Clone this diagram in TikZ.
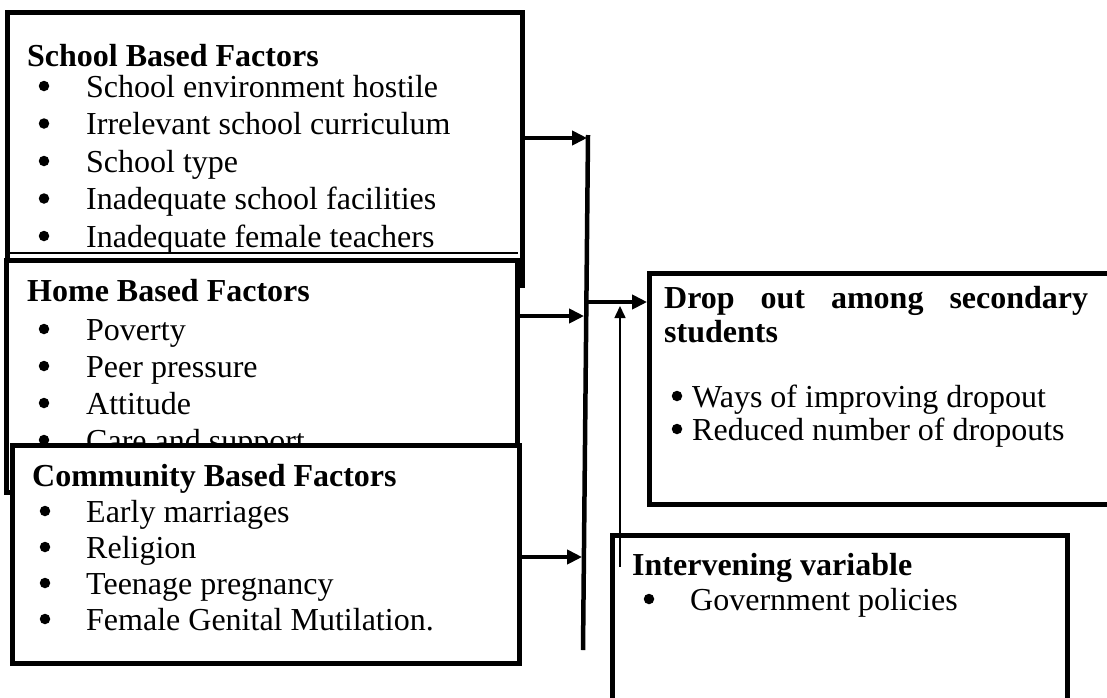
\documentclass[tikz,border=0pt]{standalone}
\usepackage{fontspec}
\setmainfont{Liberation Serif}
\usetikzlibrary{arrows.meta}
\begin{document}
\begin{tikzpicture}[x=1pt,y=-1pt,
  box/.style={draw=black,line width=4.5pt,fill=white,inner sep=0pt,anchor=north west},
  hd/.style={anchor=base west,inner sep=0pt,font=\bfseries\fontsize{32}{37}\selectfont},
  txt/.style={anchor=base west,inner sep=0pt,font=\fontsize{32}{37}\selectfont},
  bul/.style={circle,fill=black,inner sep=0pt,minimum size=10.5pt},
  arr/.style={line width=4.5pt,-{Triangle[length=15pt,width=14pt]}},
  arrshadow/.style={arr,draw=black!35,fill=black!35,shift={(2,4.5)}},
  thinarr/.style={line width=1.6pt,-{Triangle[length=12pt,width=11pt]}}]
\useasboundingbox (0,0) rectangle (1107,697);

% school based factors
\node[box,minimum width=515pt,minimum height=273pt] (school) at (5,10) {};
\draw[line width=2.5pt] (7,253) -- (518,253);
\node[hd] (schoolT) at (27,66) {School Based Factors};
\foreach \t [count=\i] in {School environment hostile,Irrelevant school curriculum,School type,Inadequate school facilities,Inadequate female teachers}{
  \node[bul] (sb\i) at (44,{97+37.5*(\i-1)-11}) {};
  \node[txt] (st\i) at (86,{97+37.5*(\i-1)}) {\t};
}

% home based factors
\node[box,minimum width=511pt,minimum height=232pt] (home) at (4,258) {};
\node[hd] (homeT) at (27,301) {Home Based Factors};
\foreach \t [count=\i] in {Poverty,Peer pressure,Attitude,Care and support}{
  \node[bul] (hb\i) at (44,{340+37*(\i-1)-11}) {};
  \node[txt] (ht\i) at (86,{340+37*(\i-1)}) {\t};
}

% community based factors
\node[box,minimum width=507pt,minimum height=218pt] (comm) at (10,443) {};
\node[hd] (commT) at (32,486) {Community Based Factors};
\foreach \t [count=\i] in {Early marriages,Religion,Teenage pregnancy,Female Genital Mutilation.}{
  \node[bul] (cb\i) at (45,{522+36*(\i-1)-11}) {};
  \node[txt] (ct\i) at (86,{522+36*(\i-1)}) {\t};
}

% dependent variable
\node[box,minimum width=480pt,minimum height=231pt] (drop) at (647,271) {};
\node[hd] (dropT1) at (664,308) {\makebox[424pt][s]{Drop out among secondary}};
\node[hd] (dropT2) at (664,342) {students};
\node[bul] (db1) at (677,{407-11}) {};
\node[txt] (dt1) at (692,407) {Ways of improving dropout};
\node[bul] (db2) at (677,{440-11}) {};
\node[txt] (dt2) at (692,440) {Reduced number of dropouts};

% intervening variable
\node[box,minimum width=455pt,minimum height=180pt] (interv) at (610,533) {};
\node[hd] (intT) at (632,575) {Intervening variable};
\node[bul] (ib1) at (649,{610-11}) {};
\node[txt] (it1) at (690,610) {Government policies};

% connector ends
\coordinate (a1s) at (520,138);  \coordinate (a1e) at (587,138);
\coordinate (a2s) at (517,316);  \coordinate (a2e) at (584,316);
\coordinate (a3s) at (517,557);  \coordinate (a3e) at (582,557);
\coordinate (busTop) at (588,135); \coordinate (busBot) at (583,650);
\coordinate (a4s) at (588,302);  \coordinate (a4e) at (647,302);
\coordinate (ivs) at (620,567);  \coordinate (ive) at (620,306);

% shadows of the main arrows
\foreach \s/\e in {a1s/a1e,a2s/a2e,a3s/a3e,a4s/a4e}{
  \draw[arrshadow] (\s) -- (\e);
}
% collecting line
\draw[line width=4.5pt] (busTop) -- (busBot);
% main arrows
\foreach \s/\e in {a1s/a1e,a2s/a2e,a3s/a3e,a4s/a4e}{
  \draw[arr] (\s) -- (\e);
}
% influence of the intervening variable
\draw[thinarr] (ivs) -- (ive);
\end{tikzpicture}
\end{document}
